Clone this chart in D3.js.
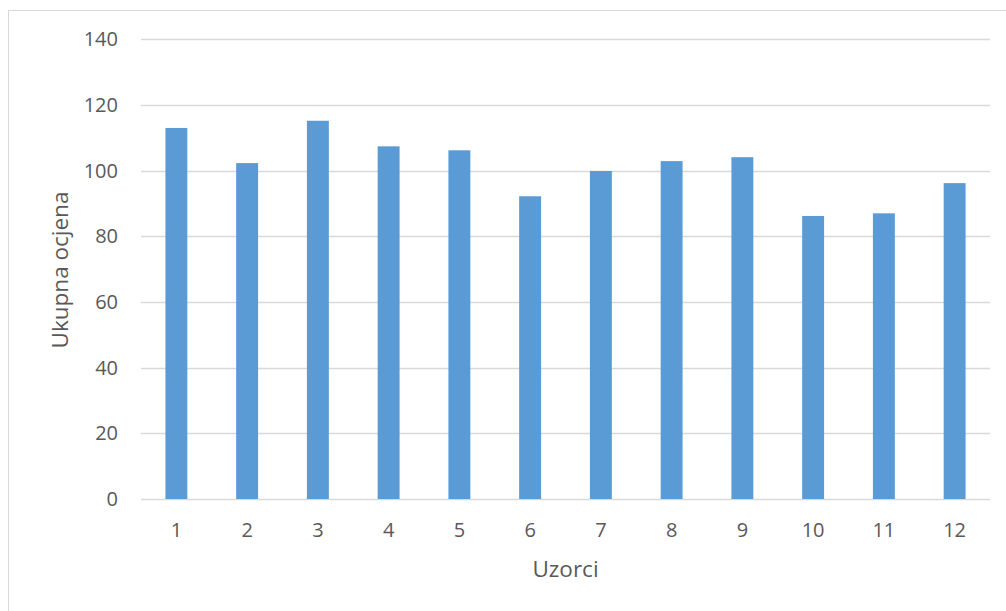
<!DOCTYPE html>
<html><head><meta charset="utf-8">
<script src="https://cdn.jsdelivr.net/npm/d3@7"></script>
<style>html,body{margin:0;padding:0;background:#fff;}svg{display:block;}</style>
</head><body>
<svg id="c" width="1006" height="611"></svg>
<script>
const categories = ["1","2","3","4","5","6","7","8","9","10","11","12"];
const values = [113.0, 102.3, 115.2, 107.4, 106.2, 92.2, 99.9, 102.9, 104.1, 86.2, 87.0, 96.2];
const yTicks = [0, 20, 40, 60, 80, 100, 120, 140];
const yTitle = "Ukupna ocjena";
const xTitle = "Uzorci";

(function () {
const svg = d3.select("#c");
const mLeft = 141, mRight = 990, mTop = 39.3, mBottom = 499;
const font = "'Open Sans', Calibri, sans-serif";
const textColor = "#595959";

// chart border
svg.append("rect").attr("x", 8.5).attr("y", 10.5).attr("width", 1010).attr("height", 620)
  .attr("fill", "none").attr("stroke", "#d9d9d9").attr("stroke-width", 1);

const x = d3.scaleBand().domain(categories).range([mLeft, mRight]).paddingInner(0.69).paddingOuter(0.345);
const y = d3.scaleLinear().domain([0, 140]).range([mBottom, mTop]);

// gridlines
svg.append("g").selectAll("line").data(yTicks).join("line")
  .attr("x1", mLeft).attr("x2", mRight)
  .attr("y1", d => Math.round(y(d)) + 0.5).attr("y2", d => Math.round(y(d)) + 0.5)
  .attr("stroke", "#d9d9d9").attr("stroke-width", 1.3);

// y axis labels
const yAxis = d3.axisLeft(y).tickValues(yTicks).tickSize(0).tickPadding(23);
const gy = svg.append("g").attr("transform", `translate(${mLeft},0)`).call(yAxis);
gy.select(".domain").remove();
gy.selectAll("text").attr("font-family", font).attr("font-size", 20).attr("fill", textColor);

// bars
svg.append("g").selectAll("rect").data(values).join("rect")
  .attr("x", (d, i) => x(categories[i]))
  .attr("width", x.bandwidth())
  .attr("y", d => y(d))
  .attr("height", d => y(0) - y(d))
  .attr("fill", "#5b9bd5");

// x axis labels
const xAxis = d3.axisBottom(x).tickSize(0).tickPadding(24);
const gx = svg.append("g").attr("transform", `translate(0,${mBottom})`).call(xAxis);
gx.select(".domain").remove();
gx.selectAll("text").attr("font-family", font).attr("font-size", 20).attr("fill", textColor);

// axis titles
svg.append("text").attr("x", (mLeft + mRight) / 2).attr("y", 577)
  .attr("text-anchor", "middle").attr("font-family", font).attr("font-size", 22.5)
  .attr("fill", textColor).text(xTitle);
svg.append("text").attr("transform", "translate(68,270) rotate(-90)")
  .attr("text-anchor", "middle").attr("font-family", font).attr("font-size", 22.5)
  .attr("fill", textColor).text(yTitle);
})();
</script>
</body></html>
